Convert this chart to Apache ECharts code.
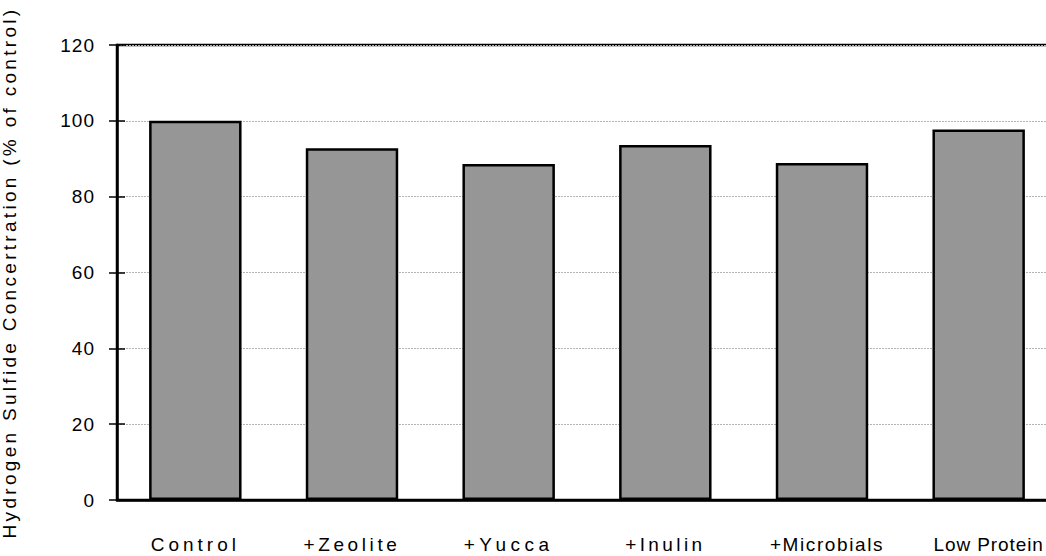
<!DOCTYPE html>
<html>
<head>
<meta charset="utf-8">
<script src="https://cdn.jsdelivr.net/npm/echarts@6/dist/echarts.min.js"></script>
<style>
html, body { margin: 0; padding: 0; background: #fff; }
#chart { width: 1046px; height: 556px; }
#chart text { letter-spacing: 4px; }
</style>
</head>
<body>
<div id="chart"></div>
<script>
const categories = ['Control', '+Zeolite', '+Yucca', '+Inulin', '+Microbials', 'Low Protein'];
const values = [100, 92.8, 88.6, 93.6, 88.9, 97.7];
const yTicks = [0, 20, 40, 60, 80, 100, 120];
const yTitle = 'Hydrogen Sulfide Concertration (% of control)';

// styling only: per-label letter spacing (px) and rightward nudge (px of left padding)
const labelSpacing = { 'Control': 4, '+Zeolite': 3.6, '+Yucca': 4.5, '+Inulin': 3.4, '+Microbials': 1.6, 'Low Protein': 0.9 };
const labelNudge = { '+Microbials': 'm', 'Low Protein': 'p' };

const chart = echarts.init(document.getElementById('chart'), null, { renderer: 'svg' });
const font = { fontFamily: 'Liberation Sans, Arial, sans-serif', fontSize: 19, color: '#000' };
chart.setOption({
  animation: false,
  backgroundColor: '#fff',
  grid: {
    left: 117, top: 45, bottom: 56, right: -11,
    containLabel: false, outerBoundsMode: 'none',
    show: true, borderColor: '#000', borderWidth: 2.5, backgroundColor: 'transparent'
  },
  xAxis: {
    type: 'category',
    data: categories,
    axisLine: { show: true, lineStyle: { color: '#000', width: 2.5 } },
    axisTick: { show: false },
    axisLabel: Object.assign({
      margin: 35, interval: 0, lineHeight: 19, verticalAlign: 'top',
      formatter: function (v) { return labelNudge[v] ? '{' + labelNudge[v] + '|' + v + '}' : v; },
      rich: {
        m: Object.assign({ padding: [0, 0, 0, 10], lineHeight: 19 }, font),
        p: Object.assign({ padding: [0, 0, 0, 20], lineHeight: 19 }, font)
      }
    }, font),
    splitLine: { show: false }
  },
  yAxis: [{
    type: 'value',
    min: yTicks[0],
    max: yTicks[yTicks.length - 1],
    interval: 20,
    name: yTitle,
    nameLocation: 'middle',
    nameGap: 98,
    nameTextStyle: font,
    axisLine: { show: true, lineStyle: { color: '#000', width: 2.5 } },
    axisTick: { show: true, inside: false, length: 8, lineStyle: { color: '#000', width: 1.5 } },
    axisLabel: Object.assign({ margin: 22 }, font),
    splitLine: { show: true, lineStyle: { color: '#b4b4b4', width: 1, type: [2, 1] } }
  }, {
    type: 'value',
    position: 'left',
    min: yTicks[0],
    max: yTicks[yTicks.length - 1],
    interval: 20,
    axisLine: { show: false },
    axisTick: { show: true, inside: true, length: 8, lineStyle: { color: '#000', width: 1.5 } },
    axisLabel: { show: false },
    splitLine: { show: false }
  }],
  series: [{
    type: 'bar',
    data: values,
    barWidth: '59%',
    itemStyle: { color: '#969696', borderColor: '#000', borderWidth: 2.5 }
  }]
});

function fixSpacing() {
  document.querySelectorAll('#chart text').forEach(function (t) {
    const s = t.textContent;
    if (/^\d+$/.test(s)) t.style.letterSpacing = '1px';
    else if (s === yTitle) t.style.letterSpacing = '3.3px';
    else if (labelSpacing[s] !== undefined) t.style.letterSpacing = labelSpacing[s] + 'px';
  });
}
chart.on('finished', fixSpacing);
fixSpacing();
setTimeout(fixSpacing, 0);
</script>
</body>
</html>
